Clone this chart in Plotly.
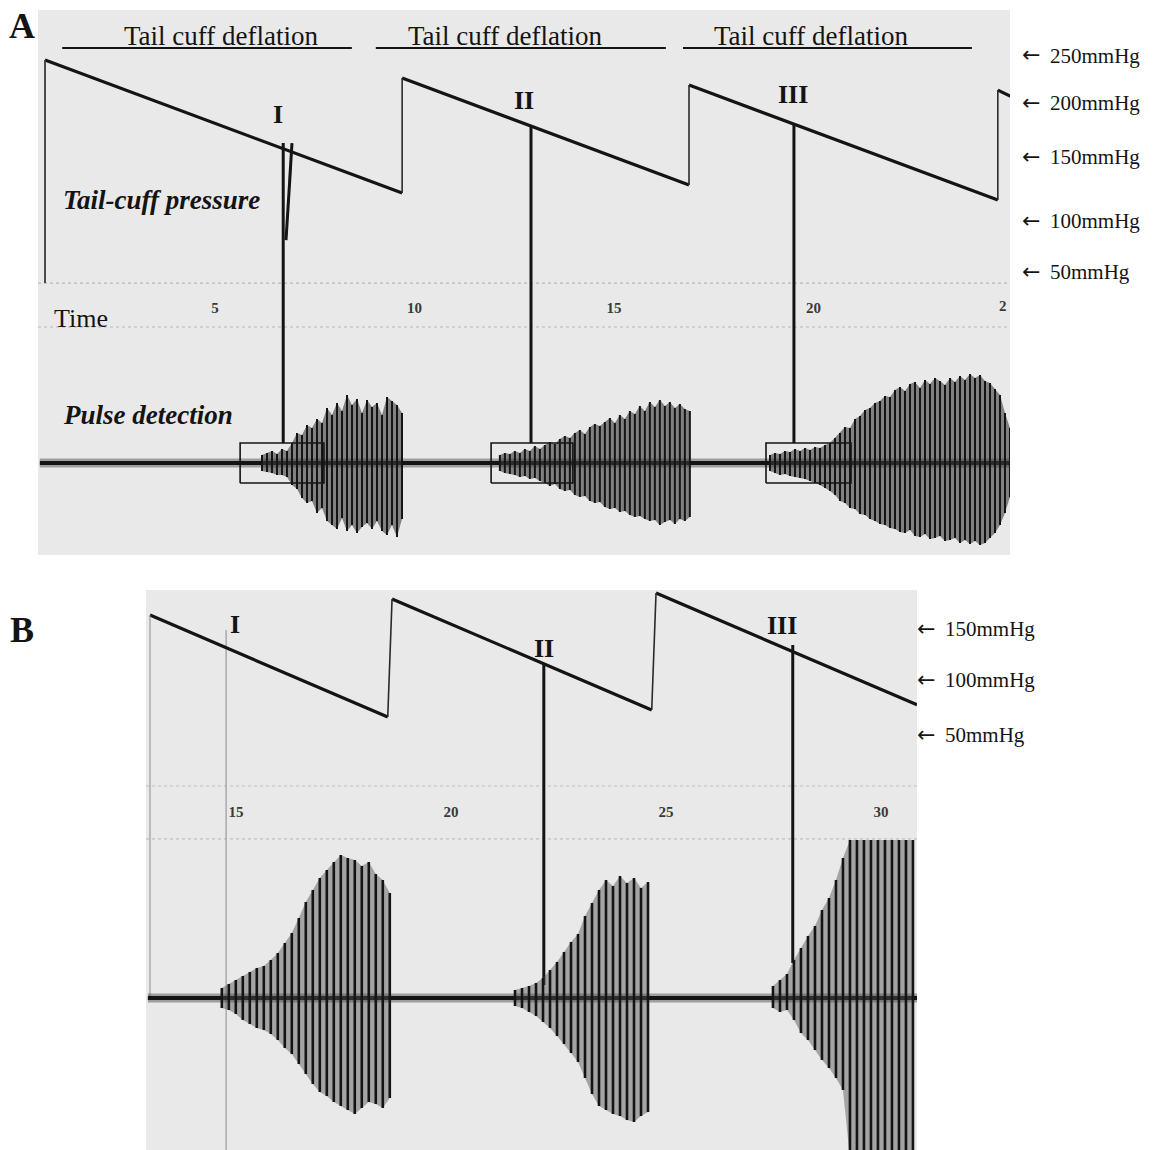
import plotly.graph_objects as go

W, H = 1158, 1150
SERIF = "Liberation Serif"
INK = "#141414"

# ======================= DATA =======================
# ---- Panel A : tail-cuff pressure sawtooth (time units, mmHg) ----
A_cycle_t_start = [0.74, 9.69, 16.88, 24.62]
A_cycle_t_end = [9.69, 16.88, 24.62, 24.95]
A_cycle_p_start = [245.3, 228.6, 222.1, 217.4]
A_cycle_p_end = [121.6, 129.1, 115.1, 211.5]
A_leadin_p = 37.9                       # start of first inflation trace

A_deflation_t0 = [1.17, 9.03, 16.73]
A_deflation_t1 = [8.43, 16.30, 23.97]
A_deflation_p = 256.5

A_marker_t = [6.71, 12.92, 19.51]
A_marker_p_top = [168.1, 183.0, 184.9]
A_marker_u_bottom = [20, 20, 20]
A_marker_names = ["I", "II", "III"]
A_marker2_t = [6.93]
A_marker2_p = [168.1, 77.9]

A_box_t0 = [5.63, 11.92, 18.81]
A_box_t1 = [7.73, 13.97, 20.94]
A_box_u = [-20, 20]

A_ticks = [5, 10, 15, 20]
A_pressure_labels = ["250mmHg", "200mmHg", "150mmHg", "100mmHg", "50mmHg"]
A_track_p = [37.9, -3.0]

# pulse detection, one value per recorded beat (arbitrary units)
A_base_t = [0.61, 24.95]
A_beat_dt = 0.1253
A_burst_t0 = [6.178, 12.14, 18.91]
A_burst_top = [
    [8, 10, 12, 9, 14, 12, 20, 30, 28, 38, 35, 44, 40, 55, 48, 60, 52, 68, 58,
     64, 50, 63, 56, 60, 48, 66, 62, 58, 50],
    [8, 10, 9, 12, 10, 14, 12, 17, 14, 18, 21, 19, 24, 27, 25, 30, 33, 29, 36,
     39, 37, 41, 45, 40, 48, 44, 52, 49, 57, 52, 61, 56, 63, 57, 61, 55, 59,
     54, 52],
    [8, 10, 9, 12, 11, 14, 12, 15, 13, 16, 15, 18, 20, 25, 30, 36, 35, 44, 47,
     53, 55, 60, 62, 67, 66, 73, 76, 72, 79, 81, 75, 83, 79, 85, 82, 78, 85,
     81, 87, 83, 89, 85, 88, 82, 80, 74, 68, 50, 35],
]
A_burst_bot = [
    [-8, -9, -10, -12, -12, -14, -22, -26, -35, -40, -38, -50, -45, -58, -62,
     -66, -55, -68, -62, -70, -64, -60, -66, -58, -68, -72, -62, -74, -56],
    [-8, -10, -11, -12, -14, -13, -16, -15, -18, -20, -23, -21, -26, -28, -27,
     -32, -34, -33, -38, -40, -39, -44, -46, -45, -49, -48, -52, -54, -53,
     -56, -58, -57, -62, -59, -57, -61, -56, -58, -54],
    [-8, -10, -12, -11, -13, -14, -15, -16, -18, -20, -22, -25, -28, -32, -38,
     -40, -45, -46, -51, -52, -56, -58, -61, -62, -65, -66, -69, -70, -67,
     -73, -74, -71, -76, -75, -73, -78, -77, -75, -80, -77, -81, -78, -82,
     -80, -75, -70, -62, -50, -34],
]

# ---- Panel B ----
B_cycle_t_start = [13.0, 18.63, 24.77]
B_cycle_t_end = [18.53, 24.67, 30.84]
B_cycle_p_start = [160.7, 175.7, 181.3]
B_cycle_p_end = [65.4, 72.0, 76.8]
B_leadin_p = -197.2

B_marker_t = [22.16, 27.95]
B_marker_p_top = [115.9, 132.7]
B_marker_u_bottom = [13, 35]
B_thin_marker_t = [14.77]
B_thin_marker_p = [146.7, -345.0]
B_label_names = ["I", "II", "III"]

B_ticks = [15, 20, 25, 30]
B_pressure_labels = ["150mmHg", "100mmHg", "50mmHg"]
B_track_p = [0.9, -48.6]

B_base_t = [12.95, 30.84]
B_beat_dt = 0.1628
B_burst_t0 = [14.67, 21.49, 27.49]
B_burst_top = [
    [10, 14, 18, 22, 26, 30, 32, 38, 45, 55, 65, 80, 96, 108, 120, 128, 136,
     143, 140, 138, 132, 136, 124, 118, 105],
    [8, 10, 12, 15, 20, 28, 36, 46, 56, 64, 82, 95, 108, 118, 112, 122, 115,
     120, 110, 116],
    [12, 18, 24, 38, 50, 62, 72, 88, 100, 118, 140, 158, 158, 158, 158, 158,
     158, 158, 158, 158, 158],
]
B_burst_bot = [
    [-10, -12, -16, -22, -26, -30, -32, -36, -42, -50, -56, -66, -76, -86,
     -94, -98, -104, -108, -112, -116, -110, -104, -106, -110, -100],
    [-8, -10, -14, -18, -24, -30, -38, -46, -55, -64, -80, -96, -108, -112,
     -116, -118, -122, -124, -118, -114],
    [-10, -14, -12, -22, -35, -42, -52, -62, -70, -80, -92, -160, -160, -160,
     -160, -160, -160, -160, -160, -160, -160],
]

# ======================= GEOMETRY / AXES =======================
def px(x):
    return x / W


def py(y):
    return 1 - y / H


A_t_range = [0.564, 24.925]
A_p_range = [-215.1, 291.9]
A_u_range = [-92, 453]
B_t_range = [12.907, 30.84]
B_p_range = [-339.3, 184.1]
B_u_range = [-152, 408]


def u_to_p(u, urange, prange):
    return prange[0] + (u - urange[0]) / (urange[1] - urange[0]) * (prange[1] - prange[0])


fig = go.Figure()


def seg_trace(xs, ys, xa, ya, width, color=INK, dash="solid"):
    fig.add_trace(go.Scatter(x=xs, y=ys, mode="lines", xaxis=xa, yaxis=ya,
                             line=dict(color=color, width=width, dash=dash),
                             hoverinfo="skip", showlegend=False))


def draw_sawtooth(ts, te, ps, pe, lead_p, xa, ya, lead_w, lead_color):
    # descending (deflation) ramps
    xs, ys = [], []
    for a, b, c, d in zip(ts, te, ps, pe):
        xs += [a, b, None]
        ys += [c, d, None]
    seg_trace(xs, ys, xa, ya, 3.2)
    # fast re-inflation steps
    xs, ys = [], []
    for i in range(len(ts) - 1):
        xs += [te[i], ts[i + 1], None]
        ys += [pe[i], ps[i + 1], None]
    seg_trace(xs, ys, xa, ya, 1.6, "#2a2a2a")
    seg_trace([ts[0], ts[0]], [lead_p, ps[0]], xa, ya, lead_w, lead_color)


def draw_pulse(base_t, t0s, dt, tops, bots, xa, ya, width, fill):
    seg_trace(base_t, [0, 0], xa, ya, 9, "rgba(20,20,20,0.35)")
    seg_trace(base_t, [0, 0], xa, ya, 4, INK)
    for t0, top, bot in zip(t0s, tops, bots):
        times = [t0 + i * dt for i in range(len(top))]
        fig.add_trace(go.Scatter(x=times + times[::-1], y=top + bot[::-1],
                                 mode="lines", fill="toself", fillcolor=fill,
                                 line=dict(width=0), xaxis=xa, yaxis=ya,
                                 hoverinfo="skip", showlegend=False))
        xs, ys = [], []
        for t, lo, hi in zip(times, bot, top):
            xs += [t, t, None]
            ys += [lo, hi, None]
        seg_trace(xs, ys, xa, ya, width)


# ---------------- Panel A ----------------
for tp in A_track_p:
    seg_trace(A_t_range, [tp, tp], "x", "y", 1.2, "#b8b8b8", "dot")
draw_sawtooth(A_cycle_t_start, A_cycle_t_end, A_cycle_p_start, A_cycle_p_end,
              A_leadin_p, "x", "y", 1.8, "#3a3a3a")
xs, ys = [], []
for a, b in zip(A_deflation_t0, A_deflation_t1):
    xs += [a, b, None]
    ys += [A_deflation_p, A_deflation_p, None]
seg_trace(xs, ys, "x", "y", 2)

draw_pulse(A_base_t, A_burst_t0, A_beat_dt, A_burst_top, A_burst_bot, "x", "y2", 2.0,
           "rgba(60,60,60,0.6)")

xs, ys = [], []
for t, ptop, ub in zip(A_marker_t, A_marker_p_top, A_marker_u_bottom):
    xs += [t, t, None]
    ys += [ptop, u_to_p(ub, A_u_range, A_p_range), None]
for t in A_marker2_t:
    xs += [t, t - 0.15, None]
    ys += [A_marker2_p[0], A_marker2_p[1], None]
seg_trace(xs, ys, "x", "y", 3.0)

xs, ys = [], []
for a, b in zip(A_box_t0, A_box_t1):
    xs += [a, b, b, a, a, None]
    ys += [A_box_u[0], A_box_u[0], A_box_u[1], A_box_u[1], A_box_u[0], None]
seg_trace(xs, ys, "x", "y2", 1.6)

# ---------------- Panel B ----------------
for tp in B_track_p:
    seg_trace(B_t_range, [tp, tp], "x2", "y3", 1.2, "#bdbdbd", "dot")
seg_trace([B_thin_marker_t[0]] * 2, B_thin_marker_p, "x2", "y3", 1.2, "#9a9a9a")
draw_sawtooth(B_cycle_t_start, B_cycle_t_end, B_cycle_p_start, B_cycle_p_end,
              B_leadin_p, "x2", "y3", 1.0, "#8a8a8a")
draw_pulse(B_base_t, B_burst_t0, B_beat_dt, B_burst_top, B_burst_bot, "x2", "y4", 2.6,
           "rgba(80,80,80,0.45)")
xs, ys = [], []
for t, ptop, ub in zip(B_marker_t, B_marker_p_top, B_marker_u_bottom):
    xs += [t, t, None]
    ys += [ptop, u_to_p(ub, B_u_range, B_p_range), None]
seg_trace(xs, ys, "x2", "y3", 3.0)

# ======================= TEXT =======================
ann = []


def text(x, y, s, size, bold=False, italic=False, xanchor="center", color=INK,
         family=SERIF):
    ann.append(dict(x=px(x), y=py(y), xref="paper", yref="paper", text=s,
                    showarrow=False, xanchor=xanchor, yanchor="middle",
                    font=dict(family=family, size=size, color=color,
                              weight="bold" if bold else "normal",
                              style="italic" if italic else "normal")))


text(22, 26, "A", 36, bold=True)
text(22, 630, "B", 36, bold=True)
for xc in [221, 505, 811]:
    text(xc, 36, "Tail cuff deflation", 27)
for name, xc, yc in zip(A_marker_names, [278, 524, 793], [115, 101, 94]):
    text(xc, yc, name, 26, bold=True)
for name, xc, yc in zip(B_label_names, [235, 544, 782], [624, 648, 625]):
    text(xc, yc, name, 26, bold=True)
text(61, 200, "Tail-cuff pressure", 27, bold=True, italic=True, xanchor="left")
text(61, 415, "Pulse detection", 27, bold=True, italic=True, xanchor="left")
text(52, 318, "Time", 26, xanchor="left")
for lab, yc in zip(A_pressure_labels, [55, 102, 156, 220, 271]):
    text(1020, yc, "\u2190", 22, xanchor="left", family="DejaVu Sans")
    text(1048, yc + 1, lab, 21, xanchor="left")
for lab, yc in zip(B_pressure_labels, [628, 679, 734]):
    text(915, yc, "\u2190", 22, xanchor="left", family="DejaVu Sans")
    text(943, yc + 1, lab, 21, xanchor="left")
text(1003, 306, "2", 15, bold=True, color="#3a3a3a")

tickfont = dict(family=SERIF, size=15, color="#3a3a3a", weight="bold")
fig.update_layout(
    width=W, height=H, autosize=False,
    margin=dict(l=0, r=0, t=0, b=0, pad=0),
    paper_bgcolor="white", plot_bgcolor="#e9e9e9",
    showlegend=False, annotations=ann,
    xaxis=dict(domain=[px(38), px(1010)], range=A_t_range, anchor="free",
               position=py(297), tickvals=A_ticks, ticks="", showgrid=False,
               zeroline=False, showline=False, tickfont=tickfont),
    yaxis=dict(domain=[py(555), py(10)], range=A_p_range, visible=False,
               anchor="x"),
    yaxis2=dict(overlaying="y", range=A_u_range, visible=False, anchor="x"),
    xaxis2=dict(domain=[px(146), px(917)], range=B_t_range, anchor="free",
                position=py(801), tickvals=B_ticks, ticks="", showgrid=False,
                zeroline=False, showline=False, tickfont=tickfont),
    yaxis3=dict(domain=[0, py(590)], range=B_p_range, visible=False, anchor="x2"),
    yaxis4=dict(overlaying="y3", range=B_u_range, visible=False, anchor="x2"),
)

fig.write_html("out.html", post_script="document.body.style.margin='0';",
               config={"displayModeBar": False})
